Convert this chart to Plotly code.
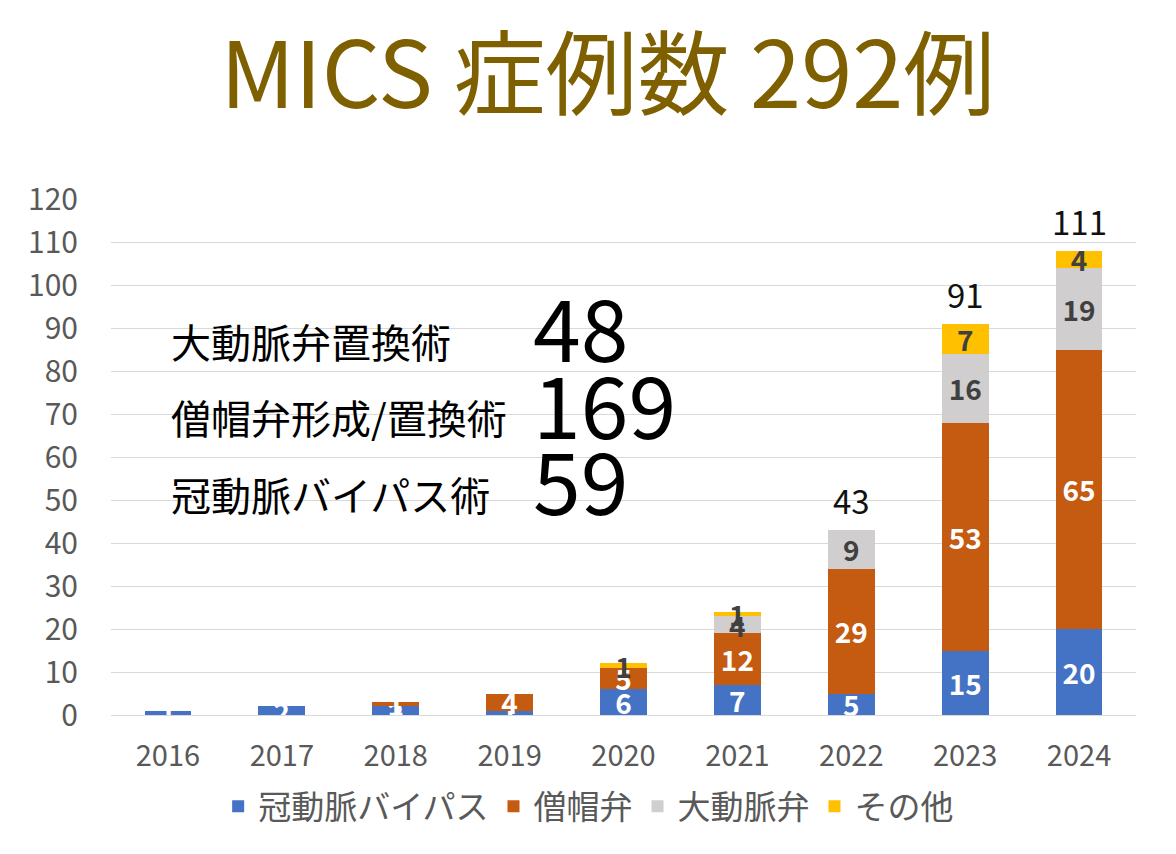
import plotly.graph_objects as go

years = ["2016", "2017", "2018", "2019", "2020", "2021", "2022", "2023", "2024"]
cabg = [1, 2, 2, 1, 6, 7, 5, 15, 20]
mitral = [0, 0, 1, 4, 5, 12, 29, 53, 65]
aortic = [0, 0, 0, 0, 0, 4, 9, 16, 19]
other = [0, 0, 0, 0, 1, 1, 0, 7, 4]
totals = [None, None, None, None, None, None, 43, 91, 111]

series_names = ["冠動脈バイパス", "僧帽弁", "大動脈弁", "その他"]
series_vals = [cabg, mitral, aortic, other]
colors = ["#4472C4", "#C55A11", "#D0CECE", "#FFC000"]
label_colors = ["white", "white", "#404040", "#404040"]

summary_labels = ["大動脈弁置換術", "僧帽弁形成/置換術", "冠動脈バイパス術"]
summary_values = ["48", "169", "59"]

title_text = "MICS 症例数 292例"

FONT = "Noto Sans CJK JP"

fig = go.Figure()
for name, vals, col, lc in zip(series_names, series_vals, colors, label_colors):
    fig.add_trace(go.Bar(
        x=years, y=vals, name=name,
        marker=dict(color=col, line=dict(width=0)),
        text=[str(v) if v else "" for v in vals],
        textposition="inside",
        insidetextanchor="middle",
        constraintext="none",
        textangle=0,
        cliponaxis=False,
        textfont=dict(family=FONT, size=28, color=lc, weight="bold"),
    ))

annotations = []
# totals above stacks (x given as category index)
for i, t in enumerate(totals):
    if t is None:
        continue
    top = cabg[i] + mitral[i] + aortic[i] + other[i]
    annotations.append(dict(
        x=i, y=top, xref="x", yref="y", text=str(t), showarrow=False,
        yanchor="bottom", yshift=4,
        font=dict(family=FONT, size=33, color="#111111"),
    ))

# summary block
label_y = [87.0, 69.2, 51.5]
for lab, val, yy in zip(summary_labels, summary_values, label_y):
    annotations.append(dict(
        x=0.0566, y=yy, xref="paper", yref="y", text=lab, showarrow=False,
        xanchor="left", yanchor="middle",
        font=dict(family=FONT, size=40, color="black"),
    ))
    annotations.append(dict(
        x=0.41, y=yy + 3.8, xref="paper", yref="y", text=val, showarrow=False,
        xanchor="left", yanchor="middle",
        font=dict(family=FONT, size=86, color="black"),
    ))

fig.update_layout(
    width=1160, height=838,
    margin=dict(l=103, r=32, t=191, b=123),
    paper_bgcolor="white", plot_bgcolor="white",
    barmode="stack",
    bargap=0.59,
    title=dict(text=title_text, x=0.517, xref="container", xanchor="center",
               y=1 - 68 / 838, yref="container", yanchor="middle",
               font=dict(family=FONT, size=92, color="#7F6000")),
    xaxis=dict(
        type="category", range=[-0.5, len(years) - 0.5],
        tickfont=dict(family=FONT, size=29, color="#595959"),
        showgrid=False, showline=True, linecolor="#D9D9D9", linewidth=1,
        ticks="outside", ticklen=15, tickcolor="rgba(0,0,0,0)",
    ),
    yaxis=dict(
        range=[0, 120], dtick=10,
        tickfont=dict(family=FONT, size=30, color="#595959"),
        showgrid=True, gridcolor="#D9D9D9", gridwidth=1,
        zeroline=True, zerolinecolor="#D9D9D9", zerolinewidth=1,
        ticks="outside", ticklen=26, tickcolor="rgba(0,0,0,0)",
    ),
    legend=dict(
        orientation="h", x=0.466, xanchor="center", y=-0.177, yanchor="middle",
        font=dict(family=FONT, size=33, color="#595959"),
        traceorder="normal",
    ),
    annotations=annotations,
    showlegend=True,
)

fig.write_html("out.html")
